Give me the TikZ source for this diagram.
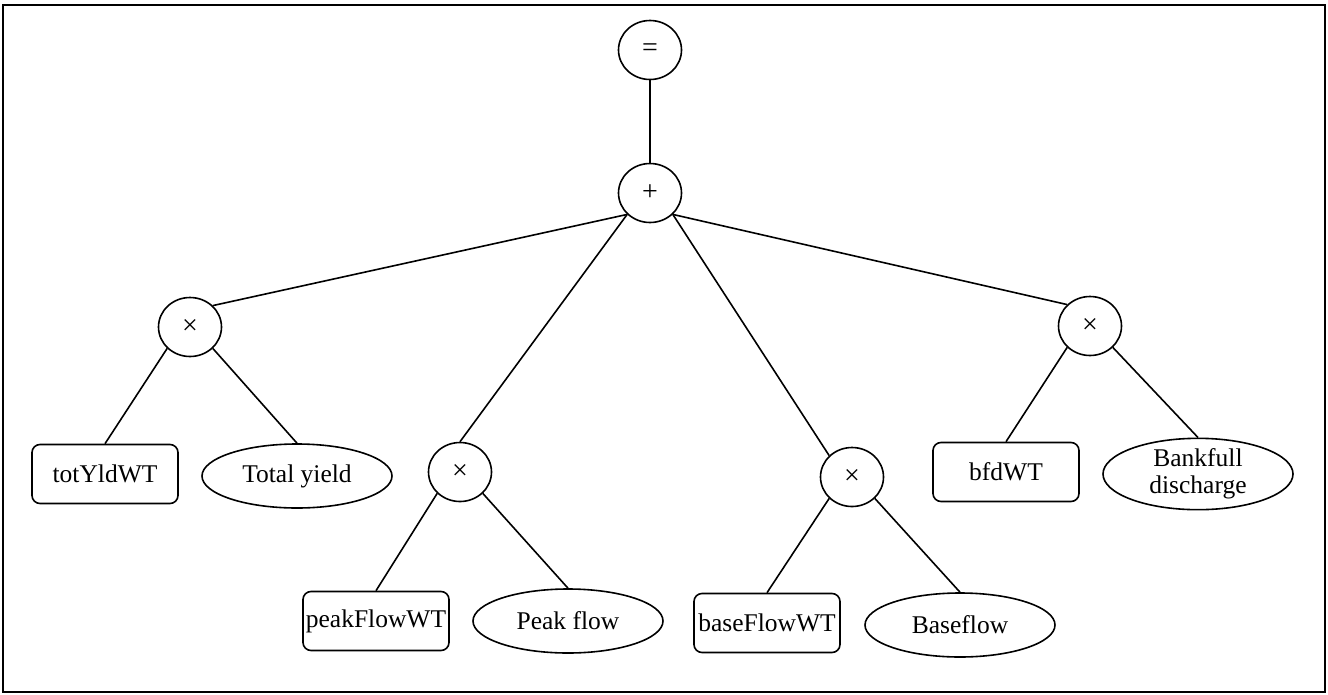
\documentclass[tikz,border=0pt]{standalone}
\usepackage{fontspec}
\setmainfont{Liberation Serif}
\usetikzlibrary{shapes.geometric}
\begin{document}
\begin{tikzpicture}[x=1pt,y=-1pt,
  every node/.style={font=\fontsize{25.5}{27}\selectfont},
  opnode/.style={draw,ellipse,line width=1.6pt,minimum width=63pt,minimum height=59pt,inner sep=0pt,font=\fontsize{28}{30}\selectfont},
  varbox/.style={draw,rounded corners=8pt,line width=1.6pt,minimum width=146pt,minimum height=59pt,inner sep=0pt},
  concept/.style={draw,ellipse,line width=1.6pt,minimum width=190pt,minimum height=64pt,inner sep=0pt,align=center},
  link/.style={line width=1.6pt}]
\useasboundingbox (0,0) rectangle (1328,694);
\draw[line width=1.8pt] (3,5) rectangle (1325,692);
% operators
\node[opnode] (eq) at (650,50) {=};
\node[opnode] (plus) at (650,193) {+};
\node[opnode] (m1) at (190,327) {×};
\node[opnode] (m2) at (460,472) {×};
\node[opnode] (m3) at (852,477) {×};
\node[opnode] (m4) at (1090,326) {×};
% leaves
\node[varbox] (tot) at (105,474) {totYldWT};
\node[concept] (toty) at (297,476) {Total yield};
\node[varbox] (peak) at (376,621) {peakFlowWT};
\node[concept] (peakf) at (568,621) {Peak flow};
\node[varbox] (base) at (767,623) {baseFlowWT};
\node[concept] (basef) at (960,625) {Baseflow};
\node[varbox] (bfd) at (1006,472) {bfdWT};
\node[concept] (bank) at (1198,474) {Bankfull\\discharge};
% connectors
\draw[link] (eq.south) -- (plus.north);
\draw[link] (plus.south west) -- (m1.north east);
\draw[link] (plus.south west) -- (m2.north);
\draw[link] (plus.south east) -- (m3.north west);
\draw[link] (plus.south east) -- (m4.north west);
\draw[link] (m1.south west) -- (tot.north);
\draw[link] (m1.south east) -- (toty.north);
\draw[link] (m2.south west) -- (peak.north);
\draw[link] (m2.south east) -- (peakf.north);
\draw[link] (m3.south west) -- (base.north);
\draw[link] (m3.south east) -- (basef.north);
\draw[link] (m4.south west) -- (bfd.north);
\draw[link] (m4.south east) -- (bank.north);
\end{tikzpicture}
\end{document}
